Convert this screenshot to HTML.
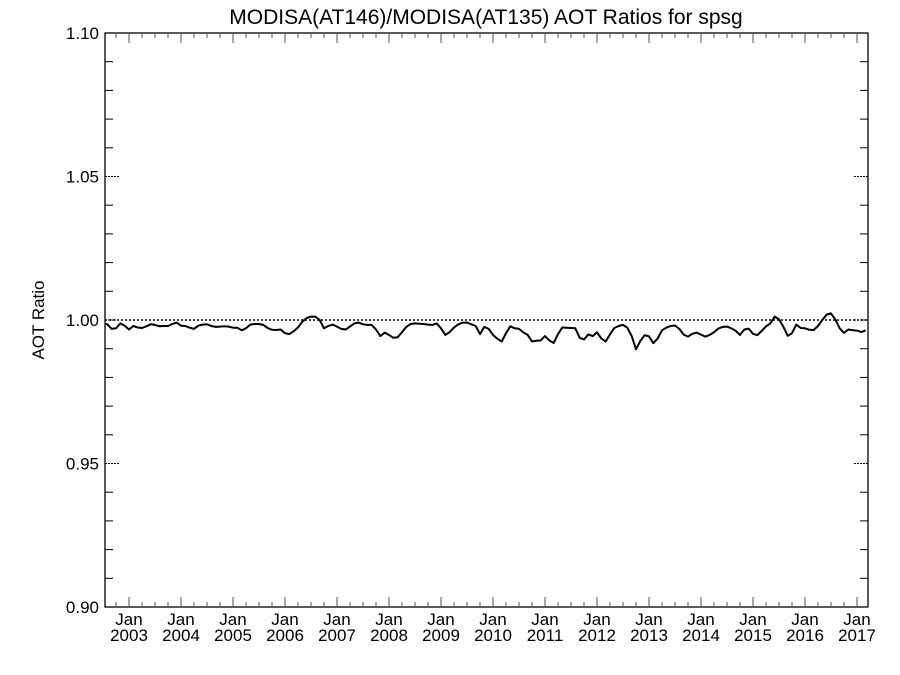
<!DOCTYPE html>
<html><head><meta charset="utf-8">
<style>
html,body{margin:0;padding:0;background:#fff;}
svg{display:block;font-family:"Liberation Sans",Arial,sans-serif;}
</style></head>
<body>
<svg id="chart" width="900" height="675" viewBox="0 0 900 675" xmlns="http://www.w3.org/2000/svg">
<rect width="900" height="675" fill="#fff"/>
<text x="486" y="24" font-size="21" text-anchor="middle" fill="#000">MODISA(AT146)/MODISA(AT135)  AOT Ratios for spsg</text>
<text x="0" y="0" font-size="17" text-anchor="middle" transform="translate(44,320) rotate(-90)" fill="#000">AOT Ratio</text>
<g id="axes"></g>
<g id="series"></g>
</svg>
<script>
const yTicks = [0.90, 0.95, 1.00, 1.05, 1.10];
const yTickLabels = ["0.90", "0.95", "1.00", "1.05", "1.10"];
const xYears = [2003,2004,2005,2006,2007,2008,2009,2010,2011,2012,2013,2014,2015,2016,2017];
const startYear = 2002.5; // first monthly sample: Jul 2002
const ratioValues = [
.9988,.9985,.9969,.9971,.9988,.9980,.9967,.9979,.9974,.9972,.9978,.9985,
.9983,.9978,.9979,.9979,.9986,.9991,.9980,.9979,.9973,.9969,.9980,.9984,
.9985,.9979,.9976,.9977,.9978,.9977,.9973,.9973,.9964,.9971,.9984,.9986,
.9986,.9983,.9972,.9966,.9965,.9967,.9954,.9951,.9961,.9974,.9994,1.0007,
1.0012,1.0012,1.0000,.9971,.9979,.9984,.9977,.9969,.9967,.9977,.9988,.9991,
.9985,.9983,.9983,.9967,.9944,.9956,.9948,.9938,.9940,.9958,.9976,.9986,
.9988,.9987,.9986,.9984,.9983,.9988,.9971,.9948,.9958,.9974,.9985,.9991,
.9991,.9985,.9979,.9951,.9976,.9969,.9948,.9935,.9925,.9954,.9978,.9971,
.9969,.9957,.9948,.9925,.9928,.9929,.9944,.9929,.9920,.9951,.9974,.9973,
.9972,.9971,.9938,.9932,.9950,.9944,.9957,.9936,.9925,.9950,.9972,.9979,
.9983,.9973,.9944,.9898,.9927,.9947,.9943,.9919,.9936,.9964,.9973,.9979,
.9981,.9969,.9949,.9942,.9952,.9956,.9949,.9942,.9948,.9957,.9970,.9976,
.9977,.9971,.9962,.9948,.9967,.9970,.9952,.9947,.9962,.9978,.9988,1.0012,
1.0002,.9977,.9945,.9954,.9984,.9972,.9971,.9966,.9965,.9979,1.0000,1.0019,
1.0023,1.0002,.9971,.9955,.9967,.9964,.9963,.9958,.9964
];
const refValue = 1.00;

const L=105,R=868,T=33,B=607;
const yMin=0.90,yMax=1.10;
function yS(v){return B-(v-yMin)/(yMax-yMin)*(B-T);}
function xS(yr){return 129+(yr-2003)*52;}
const NS="http://www.w3.org/2000/svg";
function mk(tag,attrs,parent){const e=document.createElementNS(NS,tag);for(const k in attrs)e.setAttribute(k,attrs[k]);parent.appendChild(e);return e;}
const ax=document.getElementById('axes');
const ser=document.getElementById('series');

// frame
let fr=mk('rect',{x:L,y:T,width:R-L,height:B-T,fill:'none',stroke:'#000','stroke-width':1.3},ax);



// y minor ticks
for(let i=0;i<=20;i++){
  const v=yMin+i*0.01, y=yS(v);
  if(i%5===0) continue;
  let t1=mk('line',{x1:L,x2:L+8,y1:y,y2:y,stroke:'#000','stroke-width':1},ax);
  
  
  let t2=mk('line',{x1:R-8,x2:R,y1:y,y2:y,stroke:'#000','stroke-width':1},ax);
  
  
}
// y major ticks + labels
yTicks.forEach((v,i)=>{
  const y=yS(v);
  let t1=mk('line',{x1:L,x2:L+14,y1:y,y2:y,stroke:'#000','stroke-width':1,'stroke-dasharray':'2,1'},ax);
  
  
  let t2=mk('line',{x1:R-14,x2:R,y1:y,y2:y,stroke:'#000','stroke-width':1,'stroke-dasharray':'2,1'},ax);
  
  
  let tx=mk('text',{x:L-6,y:y+6,'font-size':17,'text-anchor':'end',fill:'#000'},ax);
  tx.textContent=yTickLabels[i];
  
  
});
// x ticks (quarterly minor, yearly major)
for(let q=0;q<=60;q++){
  const yr=2002.5+q*0.25, x=xS(yr);
  if(x<L+1||x>R-1) continue;
  const major=Math.abs(yr-Math.round(yr))<1e-6;
  const len=major?10:5;
  let t1=mk('line',{x1:x,x2:x,y1:B,y2:B-len,stroke:'#555','stroke-width':1},ax);
  
  
  let t2=mk('line',{x1:x,x2:x,y1:T,y2:T+len,stroke:'#555','stroke-width':1},ax);
  
  
}
xYears.forEach(yr=>{
  const x=xS(yr);
  let a=mk('text',{x:x,y:625,'font-size':17,'text-anchor':'middle',fill:'#000'},ax);
  a.textContent='Jan';
  
  
  let b=mk('text',{x:x,y:641,'font-size':17,'text-anchor':'middle',fill:'#000'},ax);
  b.textContent=String(yr);
  
  
});

// reference line
let ref=mk('line',{x1:L,x2:R,y1:yS(refValue),y2:yS(refValue),stroke:'#000','stroke-width':1.6,'stroke-dasharray':'2,2'},ser);



// series
let d='';
ratioValues.forEach((v,i)=>{
  let x=xS(startYear+i/12); x=Math.max(L,Math.min(R,x));
  d+=(i?'L':'M')+x.toFixed(1)+','+yS(v).toFixed(1);
});
let p=mk('path',{d:d,fill:'none',stroke:'#000','stroke-width':2,'stroke-linejoin':'round'},ser);


</script>
</body></html>
